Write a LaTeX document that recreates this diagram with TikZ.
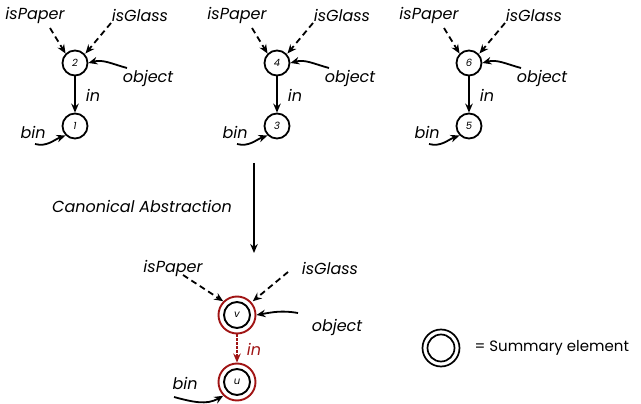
\documentclass[tikz,border=0pt]{standalone}
\usepackage{fontspec}
\setmainfont{Poppins}
\usetikzlibrary{arrows.meta}
\definecolor{dred}{RGB}{160,20,20}
\tikzset{
  every node/.style={font=\itshape\fontsize{16}{18}\selectfont},
  vnode/.style={circle,draw,line width=1.8pt,minimum size=25pt,inner sep=0pt,font=\itshape\fontsize{10}{11}\selectfont},
  snode/.style={circle,draw=dred,line width=1.9pt,minimum size=37pt,inner sep=0pt},
  inode/.style={circle,draw,line width=1.9pt,minimum size=26pt,inner sep=0pt,font=\itshape\fontsize{10}{11}\selectfont},
  arr/.style={-{Stealth[length=9pt,width=7.5pt]},line width=1.8pt},
  darr/.style={arr,dash pattern=on 6pt off 4pt},
  lbl/.style={inner sep=1pt}
}
\begin{document}
\begin{tikzpicture}[x=1pt,y=-1pt]
\useasboundingbox (0,0) rectangle (641,404);
% groups
\foreach \gx/\top/\bot/\g in {0/2/1/a,202/4/3/b,394/6/5/c}{
  \begin{scope}[xshift=\gx pt]
  \node[vnode] (t\g) at (75,63) {\top};
  \node[vnode] (b\g) at (75,126) {\bot};
  \node[lbl] (p\g) at (35,15) {isPaper};
  \node[lbl] (gl\g) at (140,15) {isGlass};
  \node[lbl] (o\g) at (148,78) {object};
  \node[lbl] (i\g) at (93,95) {in};
  \node[lbl] (bn\g) at (33,132) {bin};
  \coordinate (ps\g) at (50,28);
  \coordinate (gs\g) at (111,23);
  \coordinate (os\g) at (127,68);
  \coordinate (bs\g) at (35,144);
  \draw[darr] (ps\g) -- (t\g.north west);
  \draw[darr] (gs\g) -- ([xshift=1pt]t\g.north east);
  \draw[arr] (os\g) to[out=165,in=15] (t\g.east);
  \draw[arr] (t\g) -- (b\g);
  \draw[arr] (bs\g) to[out=-15,in=200] (b\g.south west);
  \end{scope}
}
% abstraction arrow
\coordinate (cs) at (254,163);
\node[snode] (V) at (237,315) {};
\node[inode] (Vi) at (237,315) {v};
\node[snode] (U) at (237,382) {};
\node[inode] (Ui) at (237,382) {u};
\coordinate (ce) at (254,253);
\draw[arr] (cs) -- (ce);
\node[lbl] (ca) at (142,206) {Canonical Abstraction};
\node[lbl] (pV) at (173,268) {isPaper};
\node[lbl] (gV) at (330,268) {isGlass};
\node[lbl] (oV) at (337,327) {object};
\node[lbl,text=dred] (iV) at (254,349) {in};
\node[lbl] (bU) at (185,383) {bin};
\draw[darr] (183,275) -- (V.north west);
\draw[darr] (288,272) -- ([xshift=2pt]V.north east);
\draw[arr] (298,313) to[out=170,in=10] (V.east);
\draw[arr,dred,dash pattern=on 2.5pt off 1.5pt] (V) -- (U);
\draw[arr] (174,397) to[out=-15,in=210] (U.south west);
% legend
\node[circle,draw,line width=1.7pt,minimum size=37pt,inner sep=0pt] (L) at (441,348) {};
\node[circle,draw,line width=1.7pt,minimum size=27pt,inner sep=0pt] (Li) at (441,348) {};
\node[anchor=west,font=\fontsize{15}{17}\selectfont] (Lt) at (471,348) {= Summary element};
\end{tikzpicture}
\end{document}
